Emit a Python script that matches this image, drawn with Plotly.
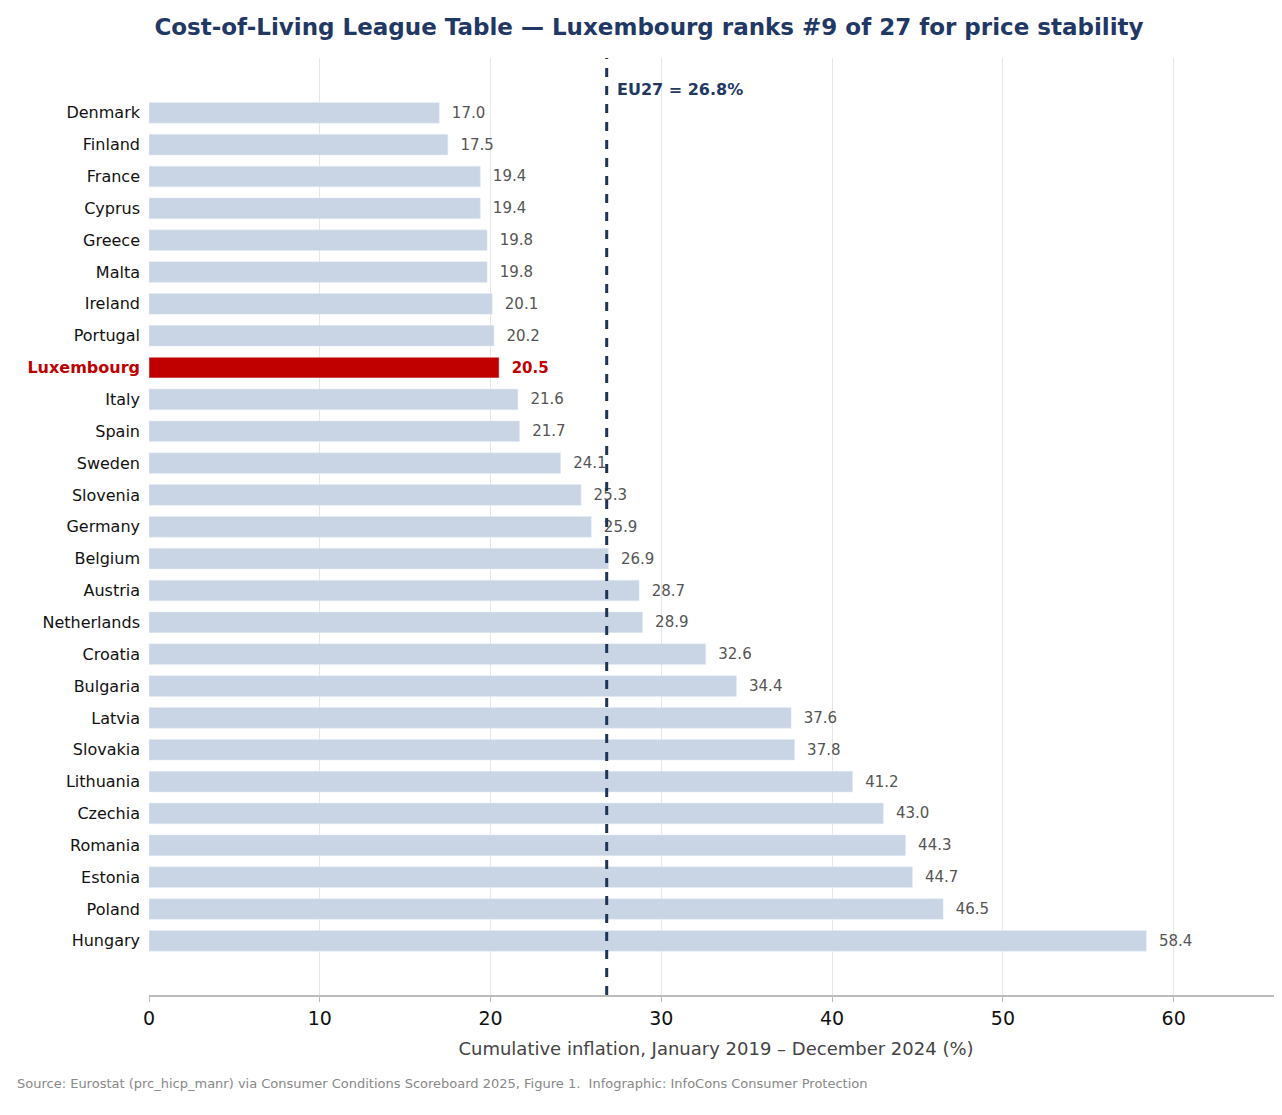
import plotly.graph_objects as go

countries = ["Denmark","Finland","France","Cyprus","Greece","Malta","Ireland","Portugal","Luxembourg","Italy","Spain","Sweden","Slovenia","Germany","Belgium","Austria","Netherlands","Croatia","Bulgaria","Latvia","Slovakia","Lithuania","Czechia","Romania","Estonia","Poland","Hungary"]
values = [17.0,17.5,19.4,19.4,19.8,19.8,20.1,20.2,20.5,21.6,21.7,24.1,25.3,25.9,26.9,28.7,28.9,32.6,34.4,37.6,37.8,41.2,43.0,44.3,44.7,46.5,58.4]
eu27 = 26.8
highlight = "Luxembourg"

n = len(countries)
ypos = list(range(n))
colors = ["#c00000" if c == highlight else "#c9d5e5" for c in countries]
ticktext = ["<b><span style='color:#c00000'>%s</span></b>" % c if c == highlight else c for c in countries]
texts = ["  <b><span style='color:#c00000'>%.1f</span></b>" % v if c == highlight else "  %.1f" % v for c, v in zip(countries, values)]

fig = go.Figure(go.Bar(
    x=values, y=ypos, orientation="h", marker_color=colors, width=0.65,
    text=texts, textposition="outside", textfont=dict(color="#555555", size=15),
    cliponaxis=False, hoverinfo="skip"))

fig.add_shape(type="line", x0=eu27, x1=eu27, y0=0, y1=1, yref="paper",
              line=dict(color="#1f3557", width=3, dash="dash"))
fig.add_annotation(x=eu27, y=1, yref="paper", yshift=-20, xshift=8, text="<b>EU27 = 26.8%</b>",
                   showarrow=False, xanchor="left", font=dict(color="#1f3864", size=16))
fig.add_annotation(x=0, xref="paper", xshift=-134, y=-0.105, yref="paper", xanchor="left",
                   text="Source: Eurostat (prc_hicp_manr) via Consumer Conditions Scoreboard 2025, Figure 1.  Infographic: InfoCons Consumer Protection",
                   showarrow=False, font=dict(color="#888888", size=13))

fig.update_layout(
    width=1282, height=1115, plot_bgcolor="white", paper_bgcolor="white",
    margin=dict(l=141, r=7, t=50, b=128),
    font=dict(family="DejaVu Sans", color="#222"),
    title=dict(text="<b>Cost-of-Living League Table — Luxembourg ranks #9 of 27 for price stability</b>",
               x=0.5, xanchor="center", y=0.99, yanchor="top", font=dict(size=23, color="#1f3864")),
    showlegend=False,
    xaxis=dict(range=[0, 66.4], dtick=10, showgrid=True, gridcolor="#e6e6e6", zeroline=False,
               showline=True, linecolor="#bbbbbb", linewidth=1.5, ticks="outside", ticklen=5,
               tickcolor="#bbbbbb", tickfont=dict(size=19, color="#111"),
               title=dict(text="Cumulative inflation, January 2019 – December 2024 (%)",
                          font=dict(size=18, color="#444"))),
    yaxis=dict(range=[n - 1 + 1.7, -1.72], tickvals=ypos, ticktext=ticktext, showgrid=False,
               tickfont=dict(size=16, color="#111"), ticks="", zeroline=False, ticklabelstandoff=8),
)
fig.write_html("out.html")
